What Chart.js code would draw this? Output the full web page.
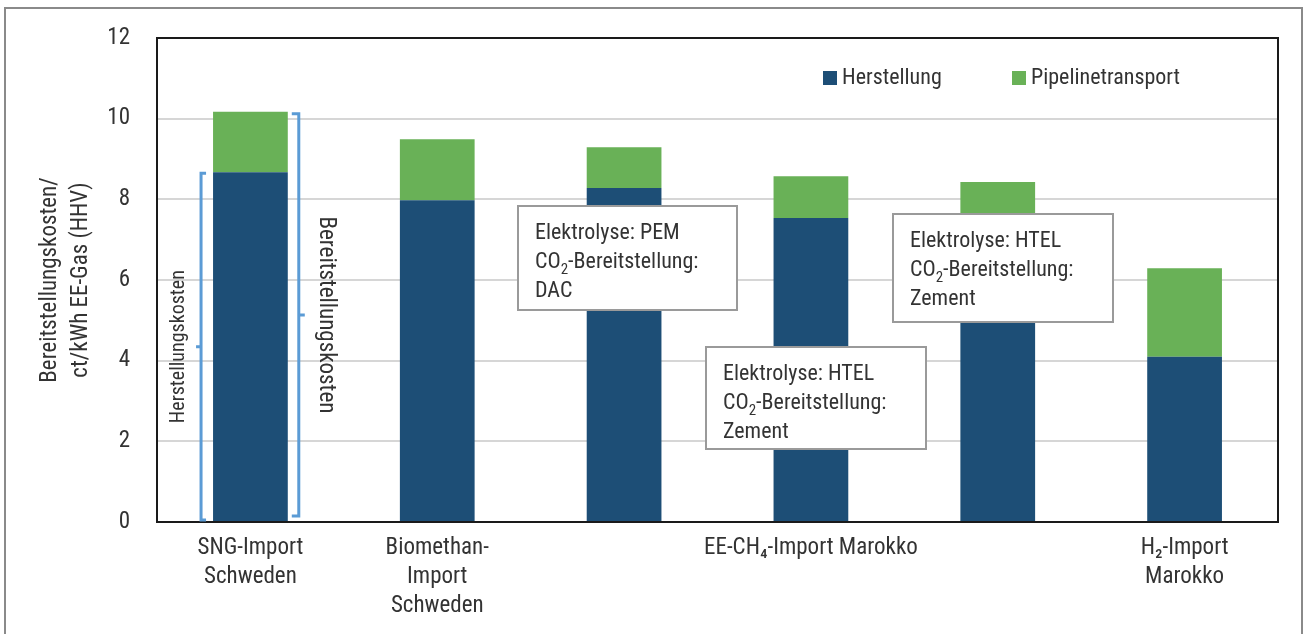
<!DOCTYPE html>
<html lang="de">
<head>
<meta charset="utf-8">
<title>Bereitstellungskosten EE-Gas</title>
<script src="https://cdn.jsdelivr.net/npm/chart.js@4.4.1/dist/chart.umd.min.js"></script>
<style>
  html, body { margin: 0; padding: 0; background: #fff; }
  #wrap { width: 1306px; height: 634px; }
</style>
</head>
<body>
<div id="wrap"><canvas id="costChart"></canvas></div>
<script>
// === Daten ===
const categories = ['SNG-Import Schweden', 'Biomethan-Import Schweden', 'EE-CH4 PEM/DAC', 'EE-CH4 HTEL/Zement', 'EE-CH4 HTEL/Zement (2)', 'H2-Import Marokko'];
const tickLabels = [['SNG-Import', 'Schweden'], ['Biomethan-', 'Import', 'Schweden'], '', 'EE-CH₄-Import Marokko', '', ['H₂-Import', 'Marokko']];
const herstellung = [8.67, 7.98, 8.28, 7.54, 7.40, 4.10];
const pipelinetransport = [1.50, 1.51, 1.01, 1.03, 1.03, 2.19];
const yTicks = [0, 2, 4, 6, 8, 10, 12];

const FONT = '"Liberation Sans Narrow", "Arial Narrow", "Roboto Condensed", "Liberation Sans", sans-serif';
const TEXT = '#333333';

// Textkästen, {2} = tiefgestellt
const boxes = [
    { x: 518, y: 206, w: 219, h: 104, lines: ['Elektrolyse: PEM', 'CO{2}-Bereitstellung:', 'DAC'] },
    { x: 706, y: 347, w: 220, h: 102, lines: ['Elektrolyse: HTEL', 'CO{2}-Bereitstellung:', 'Zement'] },
    { x: 893, y: 214, w: 220, h: 108, lines: ['Elektrolyse: HTEL', 'CO{2}-Bereitstellung:', 'Zement'] }
];

function drawRich(ctx, str, x, y, size) {
    const parts = str.split(/\{(\d)\}/);
    let cx = x;
    parts.forEach((p, i) => {
        if (!p) return;
        const sub = i % 2 === 1;
        ctx.font = (sub ? Math.round(size * 0.68) : size) + 'px ' + FONT;
        ctx.fillText(p, cx, sub ? y + size * 0.28 : y);
        cx += ctx.measureText(p).width;
    });
}

const decor = {
    id: 'decor',
    beforeDraw(chart) {
        const ctx = chart.ctx;
        ctx.save();
        ctx.strokeStyle = '#8a8a8a';
        ctx.lineWidth = 2;
        ctx.strokeRect(5, 8, 1297, 640);
        ctx.restore();
    },
    afterDatasetsDraw(chart) {
        const {ctx, chartArea: a} = chart;
        ctx.save();
        ctx.strokeStyle = '#1a1a1a';
        ctx.lineWidth = 2;
        ctx.strokeRect(a.left, a.top, a.right - a.left, a.bottom - a.top);
        ctx.restore();
    },
    afterDraw(chart) {
        const ctx = chart.ctx;
        const y = chart.scales.y;
        const b0 = chart.getDatasetMeta(0).data[0];
        const b1 = chart.getDatasetMeta(1).data[0];
        ctx.save();

        // Klammern
        ctx.strokeStyle = '#5b9bd5';
        ctx.lineWidth = 3;
        const lx = b0.x - b0.width / 2 - 12;
        const lTop = b0.y + 1, lBot = y.getPixelForValue(0) - 2;
        const lMid = (lTop + lBot) / 2;
        ctx.beginPath();
        ctx.moveTo(lx + 5, lTop); ctx.lineTo(lx, lTop); ctx.lineTo(lx, lBot); ctx.lineTo(lx + 5, lBot);
        ctx.moveTo(lx, lMid); ctx.lineTo(lx - 5, lMid);
        ctx.stroke();

        const rx = b1.x + b1.width / 2 + 11;
        const rTop = b1.y + 2, rBot = y.getPixelForValue(0) - 6;
        const rMid = (rTop + rBot) / 2;
        ctx.beginPath();
        ctx.moveTo(rx - 7, rTop); ctx.lineTo(rx, rTop); ctx.lineTo(rx, rBot); ctx.lineTo(rx - 7, rBot);
        ctx.moveTo(rx, rMid); ctx.lineTo(rx + 6, rMid);
        ctx.stroke();

        ctx.fillStyle = TEXT;
        ctx.textAlign = 'center';
        ctx.textBaseline = 'middle';
        ctx.save();
        ctx.translate(lx - 22, lMid);
        ctx.rotate(-Math.PI / 2);
        ctx.font = '20px ' + FONT;
        ctx.fillText('Herstellungskosten', 0, 0);
        ctx.restore();
        ctx.save();
        ctx.translate(rx + 27, rMid);
        ctx.rotate(Math.PI / 2);
        ctx.font = '23px ' + FONT;
        ctx.fillText('Bereitstellungskosten', 0, 0);
        ctx.restore();

        // Textkästen
        boxes.forEach(bx => {
            ctx.fillStyle = '#ffffff';
            ctx.fillRect(bx.x, bx.y, bx.w, bx.h);
            ctx.strokeStyle = '#9a9a9a';
            ctx.lineWidth = 2;
            ctx.strokeRect(bx.x, bx.y, bx.w, bx.h);
            ctx.fillStyle = TEXT;
            ctx.textAlign = 'left';
            ctx.textBaseline = 'alphabetic';
            bx.lines.forEach((ln, i) => drawRich(ctx, ln, bx.x + 17, bx.y + 33 + i * 29, 22));
        });

        // Legende
        const legendX = [823, 1012];
        chart.data.datasets.forEach((ds, i) => {
            ctx.fillStyle = ds.backgroundColor;
            ctx.fillRect(legendX[i], 71, 14, 14);
            ctx.fillStyle = TEXT;
            ctx.font = '22px ' + FONT;
            ctx.textAlign = 'left';
            ctx.textBaseline = 'middle';
            ctx.fillText(ds.label, legendX[i] + 19, 78);
        });
        ctx.restore();
    }
};

const ctx = document.getElementById('costChart').getContext('2d');
new Chart(ctx, {
    type: 'bar',
    data: {
        labels: categories,
        datasets: [
            { label: 'Herstellung', data: herstellung, backgroundColor: '#1d4e76', barPercentage: 0.4, categoryPercentage: 1 },
            { label: 'Pipelinetransport', data: pipelinetransport, backgroundColor: '#69b157', barPercentage: 0.4, categoryPercentage: 1 }
        ]
    },
    options: {
        responsive: true,
        maintainAspectRatio: false,
        animation: false,
        layout: { padding: { left: 0, top: 38, right: 28, bottom: 0 } },
        plugins: { legend: { display: false }, tooltip: { enabled: false } },
        scales: {
            x: {
                stacked: true,
                grid: { display: false, drawTicks: false },
                border: { display: true, color: '#1a1a1a', width: 2 },
                ticks: {
                    autoSkip: false,
                    maxRotation: 0,
                    padding: 12,
                    color: TEXT,
                    font: { family: FONT, size: 23, lineHeight: 1.26 },
                    callback: (v, i) => tickLabels[i]
                },
                afterFit: s => { s.height = 112; s.paddingLeft = 0; s.paddingRight = 0; }
            },
            y: {
                stacked: true,
                min: 0,
                max: 12,
                afterBuildTicks: s => { s.ticks = yTicks.map(v => ({ value: v })); },
                grid: {
                    drawTicks: false,
                    lineWidth: 2,
                    color: c => (c.tick && (c.tick.value === 0 || c.tick.value === 12)) ? 'rgba(0,0,0,0)' : '#d6d6d6'
                },
                border: { display: true, color: '#1a1a1a', width: 2 },
                ticks: { padding: 27, color: TEXT, font: { family: FONT, size: 23 } },
                title: {
                    display: true,
                    text: ['Bereitstellungskosten/', 'ct/kWh EE-Gas (HHV)'],
                    color: TEXT,
                    font: { family: FONT, size: 23, lineHeight: 1.35 },
                    padding: { top: 35, bottom: 0 }
                },
                afterFit: s => { s.width = 157; s.paddingTop = 0; s.paddingBottom = 0; }
            }
        }
    },
    plugins: [decor]
});
</script>
</body>
</html>
